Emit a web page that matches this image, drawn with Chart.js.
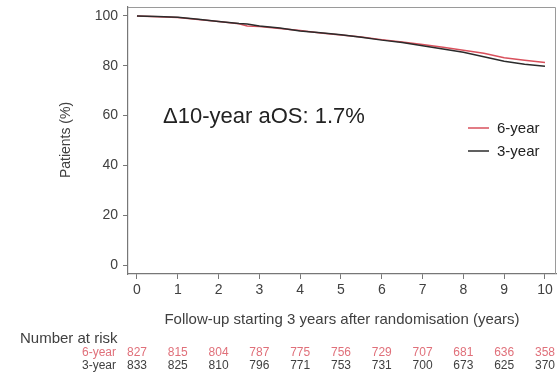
<!DOCTYPE html>
<html>
<head>
<meta charset="utf-8">
<script src="https://cdn.jsdelivr.net/npm/chart.js@4/dist/chart.umd.min.js"></script>
<style>
  html,body{margin:0;padding:0;background:#fff;}
  #wrap{width:557px;height:373px;}
</style>
</head>
<body>
<div id="wrap"><canvas id="myChart" width="557" height="373"></canvas></div>
<script>
// follow-up years (x)
const tiempos = [0,0.5,1,1.5,2,2.5,2.7,3,3.5,4,4.5,5,5.5,6,6.5,7,7.5,8,8.5,9,9.5,10];
const seisAnios = [100,99.7,99.4,98.6,97.8,96.9,96.0,95.8,95.0,94.2,93.2,92.4,91.6,90.5,89.5,88.5,87.4,86.2,85.0,83.2,82.2,81.3];
const tresAnios = [100,99.8,99.5,98.7,97.8,97.0,96.8,96.0,95.2,94.0,93.3,92.5,91.5,90.3,89.3,88.0,86.7,85.4,83.6,81.8,80.6,79.8];

const xTicks = [0,1,2,3,4,5,6,7,8,9,10];
const yTicks = [0,20,40,60,80,100];

const riesgo6 = [827,815,804,787,775,756,729,707,681,636,358];
const riesgo3 = [833,825,810,796,771,753,731,700,673,625,370];

const rojo = '#d9505c';
const negro = '#2b2b2b';
const gris = '#404040';
const fuente = '"Liberation Sans", Arial, sans-serif';

const toPts = (arr) => tiempos.map((t,i) => ({x:t, y:arr[i]}));

const extras = {
  id:'extras',
  afterDraw(chart){
    const {ctx, chartArea:a, scales:{x, y}} = chart;
    ctx.save();
    // marco arriba/derecha
    ctx.strokeStyle = '#9a9a9a';
    ctx.lineWidth = 1;
    ctx.beginPath();
    ctx.moveTo(a.left, a.top+0.5);
    ctx.lineTo(a.right-0.5, a.top+0.5);
    ctx.lineTo(a.right-0.5, a.bottom);
    ctx.stroke();

    // anotacion
    ctx.fillStyle = '#222';
    ctx.font = '22px ' + fuente;
    ctx.textAlign = 'left';
    ctx.textBaseline = 'middle';
    ctx.fillText('\u039410-year aOS: 1.7%', 163, 117);

    // leyenda
    ctx.lineWidth = 1.5;
    ctx.strokeStyle = rojo;
    ctx.beginPath(); ctx.moveTo(468,128); ctx.lineTo(489,128); ctx.stroke();
    ctx.strokeStyle = negro;
    ctx.beginPath(); ctx.moveTo(468,151); ctx.lineTo(489,151); ctx.stroke();
    ctx.font = '15px ' + fuente;
    ctx.fillStyle = '#222';
    ctx.fillText('6-year', 497, 129);
    ctx.fillText('3-year', 497, 152);

    // titulos de ejes
    ctx.fillStyle = gris;
    ctx.font = '15px ' + fuente;
    ctx.textAlign = 'center';
    ctx.fillText('Follow-up starting 3 years after randomisation (years)', 342, 320);
    ctx.save();
    ctx.translate(66, 140);
    ctx.rotate(-Math.PI/2);
    ctx.font = '14px ' + fuente;
    ctx.fillText('Patients (%)', 0, 0);
    ctx.restore();

    // tabla numero en riesgo
    ctx.textAlign = 'left';
    ctx.fillStyle = gris;
    ctx.font = '15px ' + fuente;
    ctx.fillText('Number at risk', 20, 339);
    ctx.font = '12px ' + fuente;
    ctx.textAlign = 'right';
    ctx.fillStyle = '#e0707a';
    ctx.fillText('6-year', 116, 353);
    ctx.fillStyle = gris;
    ctx.fillText('3-year', 116, 366);
    ctx.textAlign = 'center';
    xTicks.forEach((t,i) => {
      const px = x.getPixelForValue(t);
      ctx.fillStyle = '#e0707a';
      ctx.fillText(riesgo6[i], px, 353);
      ctx.fillStyle = gris;
      ctx.fillText(riesgo3[i], px, 366);
    });
    ctx.restore();
  }
};

new Chart(document.getElementById('myChart'), {
  type:'line',
  data:{
    datasets:[
      {label:'3-year', data:toPts(tresAnios), borderColor:negro, borderWidth:1.5, pointRadius:0, tension:0},
      {label:'6-year', data:toPts(seisAnios), borderColor:rojo, borderWidth:1.5, pointRadius:0, tension:0}
    ]
  },
  options:{
    responsive:false,
    animation:false,
    layout:{padding:0},
    plugins:{legend:{display:false}, tooltip:{enabled:false}},
    scales:{
      x:{
        type:'linear', min:-0.22, max:10.27,
        afterBuildTicks:(s) => { s.ticks = xTicks.map(v => ({value:v})); },
        afterFit:(s) => { s.height = 99; s.paddingLeft = 0; s.paddingRight = 1; },
        grid:{drawOnChartArea:false, tickLength:5, color:'#777', tickWidth:1},
        border:{color:'#777', width:1.2},
        ticks:{color:gris, font:{family:fuente, size:14}, padding:3, maxRotation:0}
      },
      y:{
        min:-3.6, max:103.6,
        afterBuildTicks:(s) => { s.ticks = yTicks.map(v => ({value:v})); },
        afterFit:(s) => { s.width = 128; s.paddingTop = 7; s.paddingBottom = 0; },
        grid:{drawOnChartArea:false, tickLength:5, color:'#777', tickWidth:1},
        border:{color:'#777', width:1.2},
        ticks:{color:gris, font:{family:fuente, size:14}, padding:5}
      }
    }
  },
  plugins:[extras]
});
</script>
</body>
</html>
